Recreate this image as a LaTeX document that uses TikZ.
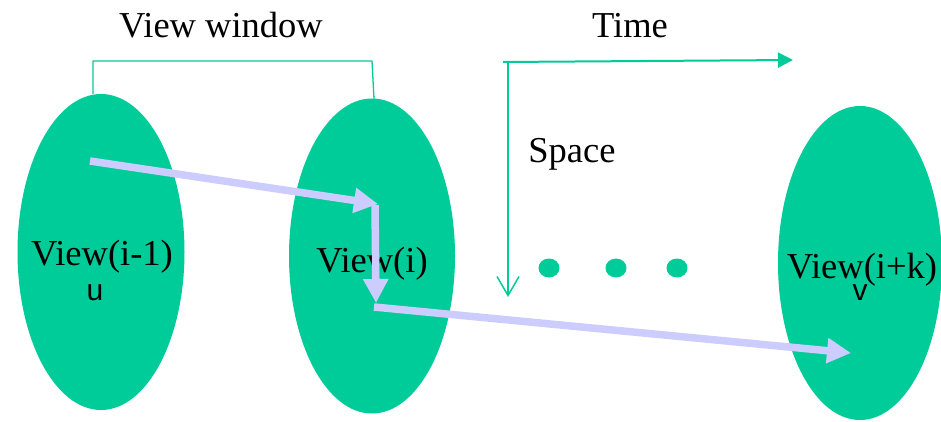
\documentclass[tikz,border=0pt]{standalone}
\usepackage{fontspec}
\setmainfont{Liberation Serif}
\newfontfamily\labsans{Liberation Sans}
\usetikzlibrary{shapes.geometric,arrows.meta}
\definecolor{viewgreen}{HTML}{00CC99}
\definecolor{flowlav}{HTML}{CCCCFF}
\tikzset{
  viewell/.style={ellipse, fill=viewgreen, draw=none, inner sep=0pt},
  bigtext/.style={font=\fontsize{36.5}{40}\selectfont, inner sep=0pt, anchor=base},
  smalltext/.style={font=\labsans\fontsize{30}{32}\selectfont, inner sep=0pt, anchor=base},
  flow/.style={draw=flowlav, line width=7.5pt, -{Triangle[length=24pt,width=24pt]}, fill=flowlav},
  axis/.style={draw=viewgreen, line width=2pt},
  bracketline/.style={draw=viewgreen, line width=1.3pt},
  dotnode/.style={ellipse, fill=viewgreen, inner sep=0pt, minimum width=21pt, minimum height=19pt}
}
\begin{document}
\begin{tikzpicture}[x=1pt,y=-1pt]
\useasboundingbox (0,0) rectangle (941,422);
% ellipses
\node[viewell, minimum width=167pt, minimum height=316pt] (e1) at (101,252) {};
\node[viewell, minimum width=166pt, minimum height=315pt] (e2) at (372,256) {};
\node[viewell, minimum width=164pt, minimum height=314pt] (e3) at (860,263) {};
% dots
\node[dotnode] (d1) at (549,268) {};
\node[dotnode] (d2) at (616,268) {};
\node[dotnode] (d3) at (677,268) {};
% texts
\node[bigtext] (tw) at (221,38) {View window};
\node[bigtext] (tt) at (630,38) {Time};
\node[bigtext] (ts) at (572,163) {Space};
\node[bigtext] (l1) at (102,265) {View(i-1)};
\node[smalltext] (u) at (95,300) {u};
\node[bigtext] (l2) at (372,272) {View(i)};
\node[bigtext] (l3) at (862,278) {View(i+k)};
\node[smalltext] (v) at (860,300) {v};
% bracket
\coordinate (b1) at (93,94);
\coordinate (b2) at (93,61);
\coordinate (b3) at (372,61);
\coordinate (b4) at (374,99);
\draw[bracketline] (b1) -- (b2) -- (b3) -- (b4);
% axes
\coordinate (a0) at (503,62);
\coordinate (a1) at (793,60);
\coordinate (s0) at (508,63);
\coordinate (s1) at (508,297);
\draw[axis, -{Triangle[length=15pt,width=15pt]}] (a0) -- (a1);
\draw[draw=viewgreen, line width=1.5pt, -{Straight Barb[length=19pt,width=22pt]}] (s0) -- (s1);
% flow arrows
\coordinate (p0) at (90,161);
\coordinate (p1) at (378,204);
\coordinate (q0) at (375,205);
\coordinate (p2) at (376,303);
\coordinate (q1) at (374,307);
\coordinate (p3) at (851,353);
\draw[flow] (p0) -- (p1);
\draw[flow] (q0) -- (p2);
\draw[flow] (q1) -- (p3);
\end{tikzpicture}
\end{document}
